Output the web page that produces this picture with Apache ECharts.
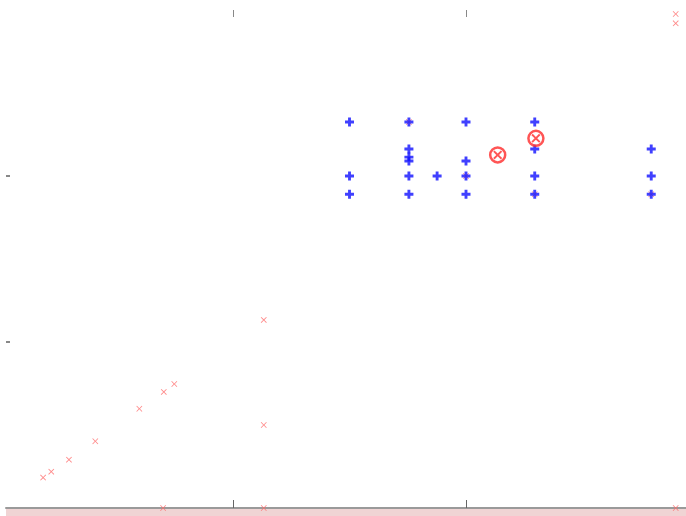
<!DOCTYPE html>
<html>
<head>
<meta charset="utf-8">
<script src="https://cdn.jsdelivr.net/npm/echarts@6/dist/echarts.min.js"></script>
<style>
  html, body { margin: 0; padding: 0; background: #fff; }
  #chart { width: 686px; height: 516px; }
</style>
</head>
<body>
<div id="chart"></div>
<script>
// tick positions on both axes
const xTicks = [1, 2];
const yTicks = [1, 2];

// blue "+" points
const plusX = [1.50, 1.50, 1.50, 1.755, 1.755, 1.755, 1.755, 1.755, 1.755, 1.876, 2.0, 2.0, 2.0, 2.0, 2.295, 2.295, 2.295, 2.295, 2.795, 2.795, 2.795];
const plusY = [2.325, 2.0, 1.89, 2.325, 2.163, 2.114, 2.09, 2.0, 1.89, 2.0, 2.325, 2.09, 2.0, 1.89, 2.325, 2.163, 2.0, 1.89, 2.163, 2.0, 1.89];

// small red "x" points
const crossX = [0.185, 0.22, 0.296, 0.409, 0.598, 0.703, 0.748, 1.132, 1.132, 0.70, 1.132, 2.90, 2.90, 2.90, 1.755, 2.0, 2.295, 2.795];
const crossY = [0.183, 0.219, 0.291, 0.402, 0.598, 0.699, 0.747, 1.133, 0.50, 0, 0, 0, 2.976, 2.92, 2.325, 2.0, 1.89, 1.89];

// red circled-x points
const ringX = [2.136, 2.30];
const ringY = [2.127, 2.227];

const zip = (xs, ys) => xs.map((x, i) => [x, ys[i]]);

const plusPath = 'path://M3.4,0H6.6V3.4H10V6.6H6.6V10H3.4V6.6H0V3.4H3.4Z';
const xPath = 'path://M0,1L1,0L5,4L9,0L10,1L6,5L10,9L9,10L5,6L1,10L0,9L4,5Z';
const xBold = 'path://M0,1.5L1.5,0L5,3.5L8.5,0L10,1.5L6.5,5L10,8.5L8.5,10L5,6.5L1.5,10L0,8.5L3.5,5Z';

const chart = echarts.init(document.getElementById('chart'));
chart.setOption({
  animation: false,
  grid: { left: 6, right: 0, top: 10, bottom: 0 },
  xAxis: [
    {
      type: 'value',
      min: 6 / 233,
      max: 686 / 233,
      axisLine: { onZero: true, lineStyle: { color: '#9a9a9a', width: 2 } },
      axisTick: { inside: true, length: 8, customValues: xTicks, lineStyle: { color: '#666' } },
      axisLabel: { show: false },
      splitLine: { show: false }
    },
    {
      type: 'value',
      position: 'top',
      min: 6 / 233,
      max: 686 / 233,
      axisLine: { show: false },
      axisTick: { show: true, inside: true, length: 7, customValues: xTicks, lineStyle: { color: '#888' } },
      axisLabel: { show: false },
      splitLine: { show: false }
    }
  ],
  yAxis: {
    type: 'value',
    min: -8 / 166,
    max: 3,
    axisLine: { show: false },
    axisTick: { show: true, inside: true, length: 4, customValues: yTicks, lineStyle: { color: '#888', width: 2 } },
    axisLabel: { show: false },
    splitLine: { show: false }
  },
  series: [
    {
      type: 'scatter',
      data: zip(crossX, crossY),
      symbol: xPath,
      symbolSize: 6,
      itemStyle: { color: '#ff6a6a', opacity: 0.8 },
      markArea: {
        silent: true,
        itemStyle: { color: '#f0d4d4' },
        data: [[{ yAxis: -8 / 166 }, { yAxis: -1 / 166 }]]
      }
    },
    {
      type: 'scatter',
      data: zip(plusX, plusY),
      symbol: plusPath,
      symbolSize: 9,
      itemStyle: { color: '#1010ff' }
    },
    {
      type: 'scatter',
      data: zip(ringX, ringY),
      symbol: 'circle',
      symbolSize: 15,
      itemStyle: { color: 'rgba(255,255,255,0.6)', borderColor: '#ff2a2a', borderWidth: 2.5 }
    },
    {
      type: 'scatter',
      data: zip(ringX, ringY),
      symbol: xBold,
      symbolSize: 9,
      itemStyle: { color: '#ff2a2a' }
    }
  ]
});
</script>
</body>
</html>
